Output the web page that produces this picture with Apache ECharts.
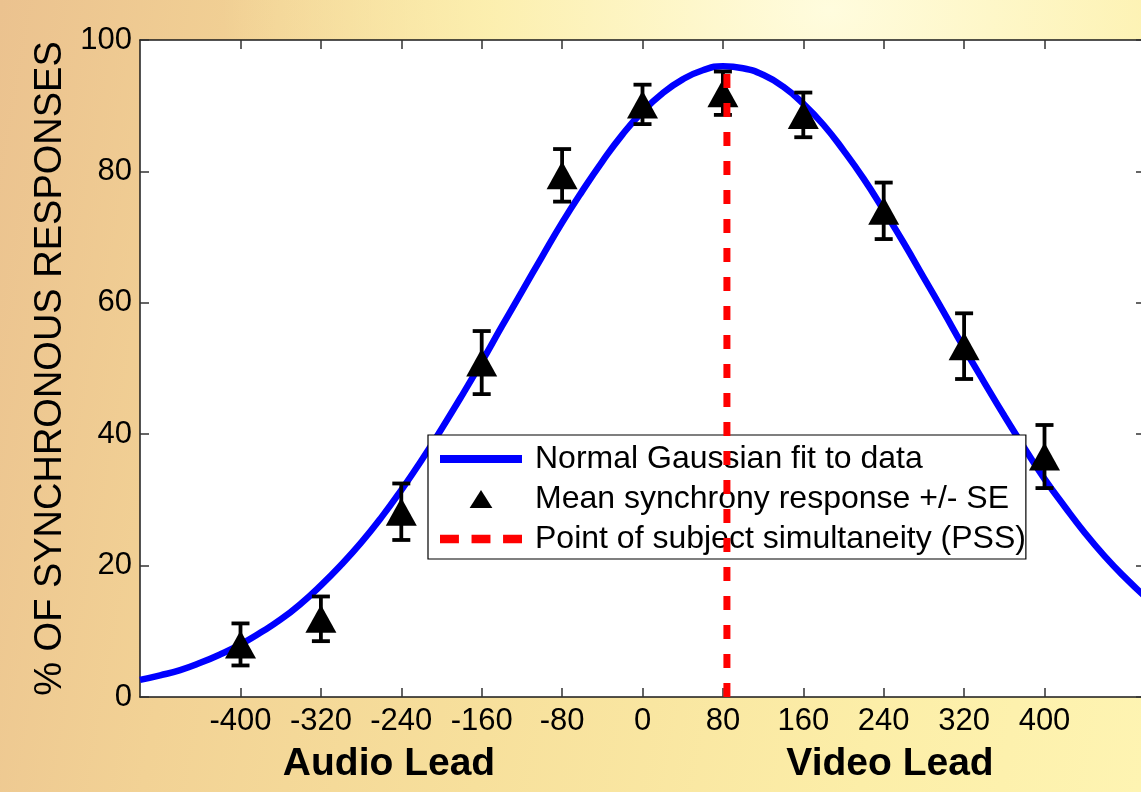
<!DOCTYPE html>
<html>
<head>
<meta charset="utf-8">
<script src="https://cdn.jsdelivr.net/npm/echarts@6/dist/echarts.min.js"></script>
<style>
  html, body { margin: 0; padding: 0; }
  body {
    width: 1141px; height: 792px; overflow: hidden;
    background:
      radial-gradient(ellipse 760px 560px at 830px 10px, rgba(255,252,222,1) 0%, rgba(253,242,178,0.85) 45%, rgba(250,232,160,0) 80%),
      linear-gradient(100deg, #EBC28F 0%, #F2D295 22%, #F7E09C 48%, #FCEEA8 78%, #FEF4B2 100%);
  }
  #chart { width: 1141px; height: 792px; }
</style>
</head>
<body>
<div id="chart"></div>
<script>
// ---- data ----
const delays = [-400, -320, -240, -160, -80, 0, 80, 160, 240, 320, 400];
const means  = [8.0, 11.9, 28.2, 50.9, 79.4, 90.2, 91.9, 88.6, 74.0, 53.4, 36.6];
const se     = [3.2, 3.4, 4.3, 4.8, 4.0, 3.0, 3.3, 3.4, 4.3, 5.0, 4.8];

// Gaussian fit curve, every 20 ms
const fitX = [-500, -480, -460, -440, -420, -400, -380, -360, -340, -320, -300, -280, -260, -240, -220, -200, -180, -160, -140, -120, -100, -80, -60, -40, -20, 0, 20, 40, 60, 80, 100, 120, 140, 160, 180, 200, 220, 240, 260, 280, 300, 320, 340, 360, 380, 400, 420, 440, 460, 480, 500];
const fitY = [2.6, 3.3, 4.1, 5.2, 6.5, 8.0, 9.8, 11.8, 14.2, 17.0, 20.1, 23.5, 27.3, 31.5, 36.0, 40.8, 45.8, 51.0, 56.4, 61.7, 67.0, 72.2, 77.0, 81.5, 85.6, 89.1, 91.9, 94.0, 95.4, 96.0, 95.7, 94.7, 92.9, 90.3, 87.1, 83.2, 78.9, 74.1, 69.1, 63.8, 58.5, 53.1, 47.9, 42.8, 37.9, 33.2, 29.0, 25.0, 21.4, 18.2, 15.3];

const pssX = [84, 84];
const pssY = [0, 96];

const xTickLabels = [-400, -320, -240, -160, -80, 0, 80, 160, 240, 320, 400];
const seriesNames = ['Normal Gaussian fit to data', 'Mean synchrony response +/- SE', 'Point of subject simultaneity (PSS)'];
const yTitle = '% OF SYNCHRONOUS RESPONSES';
const xLeftTitle = 'Audio Lead';
const xRightTitle = 'Video Lead';

// ---- chart ----
const FONT = '"Liberation Sans", Arial, Helvetica, sans-serif';
const chart = echarts.init(document.getElementById('chart'), null, { renderer: 'canvas' });

const axisLineStyle = { color: '#1a1a1a', width: 1.5 };
const tickStyle = { color: '#333', width: 1.5 };

const option = {
  backgroundColor: 'transparent',
  animation: false,
  grid: { left: 140, top: 40, width: 1005, bottom: 95, show: true, backgroundColor: '#ffffff', borderWidth: 0, containLabel: false, outerBoundsMode: 'none' },
  xAxis: [
    {
      type: 'value', min: -500, max: 500, position: 'bottom',
      axisLine: { show: true, onZero: false, lineStyle: axisLineStyle },
      axisTick: { show: true, inside: true, length: 9, customValues: xTickLabels, lineStyle: tickStyle },
      axisLabel: { customValues: xTickLabels, fontSize: 31, color: '#000', margin: 9, fontFamily: FONT },
      splitLine: { show: false }
    },
    {
      type: 'value', min: -500, max: 500, position: 'top',
      axisLine: { show: true, onZero: false, lineStyle: axisLineStyle },
      axisTick: { show: true, inside: true, length: 9, customValues: xTickLabels, lineStyle: tickStyle },
      axisLabel: { show: false },
      splitLine: { show: false }
    }
  ],
  yAxis: [
    {
      type: 'value', min: 0, max: 100, interval: 20, position: 'left',
      name: yTitle, nameLocation: 'middle', nameGap: 69, nameRotate: 90,
      nameTextStyle: { fontSize: 38, color: '#000', fontFamily: FONT },
      axisLine: { show: true, onZero: false, lineStyle: axisLineStyle },
      axisTick: { show: true, inside: true, length: 9, lineStyle: tickStyle },
      axisLabel: { fontSize: 31, color: '#000', margin: 8, fontFamily: FONT },
      splitLine: { show: false }
    },
    {
      type: 'value', min: 0, max: 100, interval: 20, position: 'right',
      axisLine: { show: true, onZero: false, lineStyle: axisLineStyle },
      axisTick: { show: true, inside: true, length: 9, lineStyle: tickStyle },
      axisLabel: { show: false },
      splitLine: { show: false }
    }
  ],
  legend: {
    orient: 'vertical', left: 428, top: 435,
    backgroundColor: '#ffffff', borderColor: '#000', borderWidth: 1.2, borderRadius: 0,
    padding: [8, 0, 4, 12],
    itemWidth: 82, itemHeight: 18, itemGap: 8,
    textStyle: { fontSize: 32, color: '#000', fontFamily: FONT, padding: [0, 0, 0, 8] },
    data: [
      { name: seriesNames[0], icon: 'path://M0,0H82V8H0Z', itemStyle: { color: '#0000FF' } },
      { name: seriesNames[1], icon: 'path://M12,0L24,19L0,19Z', itemStyle: { color: '#000' } },
      { name: seriesNames[2], icon: 'path://M0,0H18V8H0Z M30,0H48V8H30Z M60,0H78V8H60Z', itemStyle: { color: '#FF0000' } }
    ]
  },
  graphic: [
    { type: 'text', x: 389, y: 764, style: { text: xLeftTitle, fontSize: 39, fontWeight: 'bold', fontFamily: FONT, fill: '#000', align: 'center', verticalAlign: 'middle' } },
    { type: 'text', x: 890, y: 764, style: { text: xRightTitle, fontSize: 39, fontWeight: 'bold', fontFamily: FONT, fill: '#000', align: 'center', verticalAlign: 'middle' } }
  ],
  series: [
    {
      name: seriesNames[0], type: 'line', smooth: true, symbol: 'none', z: 2,
      data: fitX.map((x, i) => [x, fitY[i]]),
      lineStyle: { color: '#0000FF', width: 6.5 },
      itemStyle: { color: '#0000FF' }
    },
    {
      name: 'errorbars', type: 'custom', z: 3,
      data: delays.map((d, i) => [d, means[i] - se[i], means[i] + se[i]]),
      encode: { x: 0, y: [1, 2] },
      renderItem: function (params, api) {
        const lo = api.coord([api.value(0), api.value(1)]);
        const hi = api.coord([api.value(0), api.value(2)]);
        const hw = 9;
        const st = { stroke: '#000', lineWidth: 3.8 };
        return {
          type: 'group',
          children: [
            { type: 'line', shape: { x1: lo[0], y1: lo[1], x2: hi[0], y2: hi[1] }, style: st },
            { type: 'line', shape: { x1: lo[0] - hw, y1: lo[1], x2: lo[0] + hw, y2: lo[1] }, style: st },
            { type: 'line', shape: { x1: hi[0] - hw, y1: hi[1], x2: hi[0] + hw, y2: hi[1] }, style: st }
          ]
        };
      }
    },
    {
      name: seriesNames[1], type: 'scatter', symbol: 'triangle', symbolSize: [31, 28], z: 4,
      data: delays.map((d, i) => [d, means[i]]),
      itemStyle: { color: '#000', opacity: 1 }
    },
    {
      name: seriesNames[2], type: 'line', symbol: 'none', z: 5,
      data: pssX.map((x, i) => [x, pssY[i]]),
      lineStyle: { color: '#FF0000', width: 7, type: [14, 15] },
      itemStyle: { color: '#FF0000' }
    }
  ]
};
chart.setOption(option);
</script>
</body>
</html>
